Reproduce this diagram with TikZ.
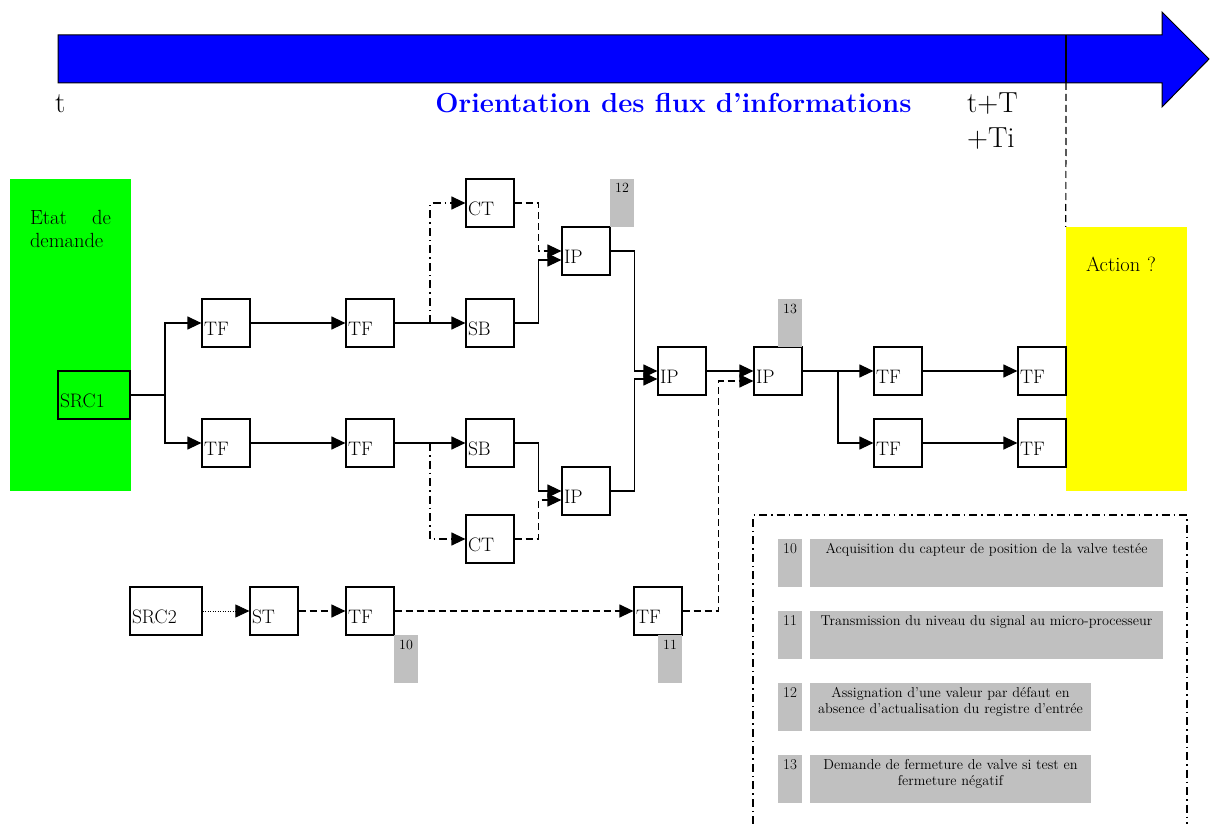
\documentclass[tikz,border=0pt]{standalone}
\usepackage{fontspec}
\usetikzlibrary{arrows.meta}

\definecolor{argent}{HTML}{C0C0C0}
\definecolor{jaune}{RGB}{255,255,0}
\definecolor{vert}{RGB}{0,255,0}

\begin{document}
\begin{tikzpicture}[x=1pt,y=-1pt,
    bloc/.style={draw,line width=1.2pt,minimum width=48pt,minimum height=48pt,
      text width=44pt,inner xsep=2pt,align=left,text height=24pt,text depth=0pt,
      font=\fontsize{19.5}{22}\selectfont},
    zone/.style={minimum width=121pt,text width=81pt,inner xsep=20pt,inner ysep=0pt,
      align=left,font=\fontsize{20.5}{23}\selectfont},
    etiq/.style={fill=argent,minimum width=24pt,minimum height=48pt,inner sep=0pt,
      text height=14pt,text depth=34pt,font=\fontsize{14}{16}\selectfont},
    legende/.style={etiq,align=center,font=\fontsize{14.3}{16}\selectfont},
    lien/.style={line width=1.2pt,-{Triangle[length=14pt,width=13pt]}},
    tiret/.style={dash pattern=on 7pt off 4pt},
    mixte/.style={dash pattern=on 8pt off 4pt on 1.5pt off 4pt},
    pointille/.style={dash pattern=on 1pt off 1.5pt}]

  \useasboundingbox (0,0) rectangle (1210,824);

  % fleche du temps
  \draw[fill=blue,line width=1pt] (58,35) -- (1162,35) -- (1162,12) -- (1209,59)
    -- (1162,107) -- (1162,83) -- (58,83) -- cycle;

  \begin{scope}[every node/.style={anchor=base west,inner sep=0pt,
      font=\fontsize{29}{34}\selectfont}]
    \node (t0)  at (55,113)  {t};
    \node (tT)  at (967,113) {t+T};
    \node (tTi) at (967,148) {+Ti};
  \end{scope}
  \node (titre) [anchor=base,inner sep=0pt,text=blue,
    font=\fontsize{27.5}{32}\selectfont\bfseries] at (673.5,113)
    {Orientation des flux d'informations};

  % zones
  \node (demande) [zone,fill=vert,minimum height=312pt,text height=45pt,
    text depth=267pt] at (70.5,335) {Etat\hfill de\\demande};
  \node (action) [zone,fill=jaune,minimum height=264pt,text height=44pt,
    text depth=220pt] at (1126.5,359) {Action ?};

  \coordinate (haut) at (1066,35);
  \coordinate (bas)  at (1066,83);
  \draw[line width=1.2pt] (haut) -- (bas);
  \draw[line width=1.2pt,tiret] (bas) -- (action.north west);

  \begin{scope}[every node/.style={bloc}]
    \node (src1) [minimum width=72pt,text width=68pt] at (94,395) {SRC1};
    \node (tf1)  at (226,323) {TF};
    \node (tf2)  at (370,323) {TF};
    \node (sb1)  at (490,323) {SB};
    \node (ct1)  at (490,203) {CT};
    \node (ip1)  at (586,251) {IP};
    \node (tf3)  at (226,443) {TF};
    \node (tf4)  at (370,443) {TF};
    \node (sb2)  at (490,443) {SB};
    \node (ct2)  at (490,539) {CT};
    \node (ip2)  at (586,491) {IP};
    \node (ip3)  at (682,371) {IP};
    \node (ip4)  at (778,371) {IP};
    \node (tf5)  at (898,371) {TF};
    \node (tf6)  at (1042,371) {TF};
    \node (tf7)  at (898,443) {TF};
    \node (tf8)  at (1042,443) {TF};
    \node (src2) [minimum width=72pt,text width=68pt] at (166,611) {SRC2};
    \node (st)   at (274,611) {ST};
    \node (tf9)  at (370,611) {TF};
    \node (tf10) at (658,611) {TF};
  \end{scope}

  \begin{scope}[every node/.style={etiq}]
    \node (e12) at (622,203) {12};
    \node (e13) at (790,323) {13};
    \node (e10) at (406,659) {10};
    \node (e11) at (670,659) {11};
  \end{scope}

  \coordinate (j1) at (165,395);
  \coordinate (j2) at (838,371);
  \coordinate (k1) at (430,323);
  \coordinate (k2) at (430,443);

  \begin{scope}[every edge/.style={draw,lien}]
    \path (tf1)  edge (tf2);
    \path (tf3)  edge (tf4);
    \path (tf2)  edge (sb1);
    \path (tf4)  edge (sb2);
    \path (ip3)  edge (ip4);
    \path (ip4)  edge (tf5);
    \path (tf5)  edge (tf6);
    \path (tf7)  edge (tf8);
    \path (src2) edge[pointille,line width=0.8pt] (st);
    \path (st)   edge[tiret] (tf9);
    \path (tf9)  edge[tiret] (tf10);
  \end{scope}

  \draw[lien] (src1) -- (j1) |- (tf1);
  \draw[lien] (j1) |- (tf3);
  \draw[lien,mixte] (k1) |- (ct1);
  \draw[lien,mixte] (k2) |- (ct2);
  \draw[lien,tiret] (ct1.east) -- ++(24,0) |- (ip1.west);
  \draw[lien] (sb1.east) -- ++(24,0) |- ([yshift=-9pt]ip1.west);
  \draw[lien] (sb2.east) -- ++(24,0) |- (ip2.west);
  \draw[lien,tiret] (ct2.east) -- ++(24,0) |- ([yshift=-9pt]ip2.west);
  \draw[lien] (ip1.east) -- ++(24,0) |- (ip3.west);
  \draw[lien] (ip2.east) -- ++(24,0) |- ([yshift=-8pt]ip3.west);
  \draw[lien] (j2) |- (tf7);
  \draw[lien,tiret] (tf10.east) -- ++(36,0) |- ([yshift=-10pt]ip4.west);

  % legende
  \draw[mixte,line width=1.2pt] (753,824) -- (753,515) -- (1187,515) -- (1187,824);
  \begin{scope}[every node/.style={etiq,font=\fontsize{15}{17}\selectfont}]
    \node (n10) at (790,563) {10};
    \node (n11) at (790,635) {11};
    \node (n12) at (790,707) {12};
    \node (n13) at (790,779) {13};
  \end{scope}
  \node (l10) [legende,text width=353pt] at (986.5,563)
    {Acquisition du capteur de position de la valve testée};
  \node (l11) [legende,text width=353pt] at (986.5,635)
    {Transmission du niveau du signal au micro-processeur};
  \node (l12) [legende,text width=281pt] at (950.5,707)
    {Assignation d'une valeur par défaut en\\absence d'actualisation du registre d'entrée};
  \node (l13) [legende,text width=281pt] at (950.5,779)
    {Demande de fermeture de valve si test en\\fermeture négatif};

\end{tikzpicture}
\end{document}
